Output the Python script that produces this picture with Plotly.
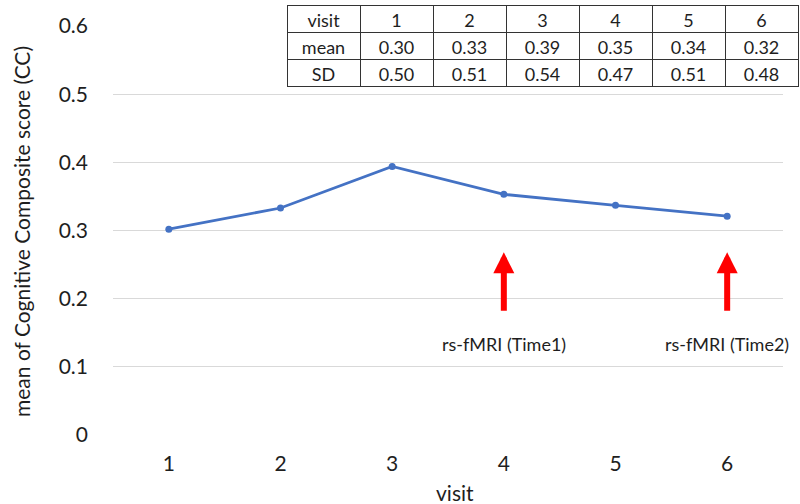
import plotly.graph_objects as go

visits = [1, 2, 3, 4, 5, 6]
mean_cc = [0.302, 0.333, 0.394, 0.353, 0.337, 0.321]
table_mean = ["0.30", "0.33", "0.39", "0.35", "0.34", "0.32"]
table_sd = ["0.50", "0.51", "0.54", "0.47", "0.51", "0.48"]
y_ticks = [0, 0.1, 0.2, 0.3, 0.4, 0.5, 0.6]
y_tick_text = ["0", "0.1", "0.2", "0.3", "0.4", "0.5", "0.6"]
arrow_visits = [4, 6]
arrow_labels = ["rs-fMRI (Time1)", "rs-fMRI (Time2)"]

FONT = "Lato"
TXT = "#1e1e1e"
W, H = 800, 504
PX0, PX1 = 113, 783   # plot area left/right (px)
PY0, PY1 = 435, 26    # plot area bottom/top (px)

fig = go.Figure()
fig.add_trace(go.Scatter(
    x=visits, y=mean_cc, mode="lines+markers",
    line=dict(color="#4472C4", width=2.8),
    marker=dict(color="#4472C4", size=7),
    showlegend=False, hoverinfo="skip",
))

fig.add_trace(go.Table(
    domain=dict(x=[287 / W, 798 / W], y=[(H - 88) / H, (H - 5) / H]),
    header=dict(
        values=["visit"] + [str(v) for v in visits],
        fill_color="white", line=dict(color="#333333", width=1),
        font=dict(family=FONT, size=18, color=TXT),
        align="center", height=27,
    ),
    cells=dict(
        values=[["mean", "SD"]] + [[m, s] for m, s in zip(table_mean, table_sd)],
        fill_color="white", line=dict(color="#333333", width=1),
        font=dict(family=FONT, size=18, color=TXT),
        align="center", height=27,
    ),
))

for v, lab in zip(arrow_visits, arrow_labels):
    fig.add_annotation(
        x=v, y=0.268, ax=v, ay=0.180, xref="x", yref="y", axref="x", ayref="y",
        text="", showarrow=True, arrowhead=2, arrowsize=0.7, arrowwidth=6,
        arrowcolor="#FF0000",
    )
    fig.add_annotation(
        x=v, y=0.134, xref="x", yref="y", text=lab, showarrow=False,
        font=dict(family=FONT, size=18, color=TXT),
    )

# axis titles
fig.add_annotation(
    x=22 / W, y=1 - 232 / H, xref="paper", yref="paper", text="mean of Cognitive Composite score (CC)",
    textangle=-90, showarrow=False, font=dict(family=FONT, size=21, color=TXT),
    xanchor="center", yanchor="middle",
)
fig.add_annotation(
    x=455 / W, y=1 - 492 / H, xref="paper", yref="paper", text="visit",
    showarrow=False, font=dict(family=FONT, size=21, color=TXT),
    xanchor="center", yanchor="middle",
)

fig.update_layout(
    width=W, height=H,
    margin=dict(l=0, r=0, t=0, b=0),
    paper_bgcolor="white", plot_bgcolor="white",
    font=dict(family=FONT, color=TXT),
    xaxis=dict(
        domain=[PX0 / W, PX1 / W],
        range=[0.5, 6.5], tickvals=visits, ticktext=[str(v) for v in visits],
        showgrid=False, zeroline=False, showline=False, ticks="",
        tickfont=dict(size=21, color=TXT), ticklabelstandoff=14,
        automargin=False,
    ),
    yaxis=dict(
        domain=[(H - PY0) / H, (H - PY1) / H],
        range=[0, 0.6], tickvals=y_ticks, ticktext=y_tick_text,
        showgrid=True, gridcolor="#d9d9d9", gridwidth=1, zeroline=False,
        showline=False, ticks="",
        tickfont=dict(size=21, color=TXT), ticklabelstandoff=24,
        automargin=False,
    ),
)

fig.write_html("out.html", config={"displayModeBar": False},
               post_script="document.body.style.margin='0px';")
